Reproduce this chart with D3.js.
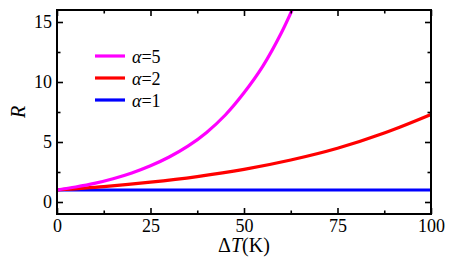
<!DOCTYPE html>
<html>
<head>
<meta charset="utf-8">
<script src="https://cdn.jsdelivr.net/npm/d3@7"></script>
</head>
<body style="margin:0">
<svg id="chart" width="469" height="260" font-family="Liberation Serif"></svg>
<script>

/* Data -------------------------------------------------------------------- */

const xTicks = [0, 25, 50, 75, 100];
const yTicks = [0, 5, 10, 15];

const alpha1T = [0, 100];
const alpha1R = [1, 1];

const alpha2T = [0, 12.5, 25, 37.5, 50, 62.5, 75, 87.5, 100];
const alpha2R = [1, 1.28, 1.65, 2.12, 2.72, 3.5, 4.48, 5.75, 7.3];

const alpha5T = [0, 5, 10, 15, 20, 25, 30, 35, 40, 45, 50, 55, 60, 64];
const alpha5R = [1, 1.25, 1.55, 1.94, 2.42, 3.02, 3.75, 4.65, 5.8, 7.25, 9.1, 11.3, 14.1, 16.8];

const seriesNames = ["5", "2", "1"];
const seriesColors = ["#ff00ff", "#ff0000", "#0000ff"];

/* Draw graphic ------------------------------------------------------------ */

const fontName = "Liberation Serif";

const margin = {top: 10, right: 38, bottom: 46, left: 57};
const plotW = 469 - margin.left - margin.right;
const plotH = 260 - margin.top - margin.bottom;

const x = d3.scaleLinear().domain([0, 100]).range([0, plotW]);
const y = d3.scaleLinear().domain([-1, 16]).range([plotH, 0]);

const svg = d3.select("#chart");

const canvas = svg.append("g")
    .attr("transform", `translate(${margin.left},${margin.top})`);

// Clip for curves
canvas.append("clipPath")
    .attr("id", "plot-clip")
    .append("rect")
    .attr("width", plotW)
    .attr("height", plotH);

// Curves
const zip = (ts, rs) => ts.map((t, i) => [t, rs[i]]);
const series = [
    zip(alpha5T, alpha5R),
    zip(alpha2T, alpha2R),
    zip(alpha1T, alpha1R)
];

const lineGen = d3.line()
    .x(d => x(d[0]))
    .y(d => y(d[1]))
    .curve(d3.curveCatmullRom);

// draw blue first so the others sit on top
[2, 1, 0].forEach(i => {
    canvas.append("path")
        .attr("d", lineGen(series[i]))
        .attr("clip-path", "url(#plot-clip)")
        .attr("fill", "none")
        .attr("stroke", seriesColors[i])
        .attr("stroke-width", 3.2);
});

// Axes: major and minor ticks pointing inward on all four sides
const xMinor = d3.range(0, 101, 12.5).filter(v => !xTicks.includes(v));
const yMinor = d3.range(0, 16, 2.5).filter(v => !yTicks.includes(v));

function styleAxis(g) {
    g.attr("font-family", fontName).attr("font-size", 18);
    g.select(".domain").remove();
    g.selectAll("line").attr("stroke", "#000").attr("stroke-width", 1.6);
    g.selectAll("text")
        .attr("font-family", fontName)
        .attr("fill", "#000");
}

canvas.append("g")
    .attr("transform", `translate(0,${plotH})`)
    .call(d3.axisBottom(x).tickValues(xTicks).tickSize(-6).tickPadding(5))
    .call(styleAxis);
canvas.append("g")
    .attr("transform", `translate(0,${plotH})`)
    .call(d3.axisBottom(x).tickValues(xMinor).tickSize(-3.5).tickFormat(""))
    .call(styleAxis);
canvas.append("g")
    .call(d3.axisTop(x).tickValues(xTicks).tickSize(-6).tickFormat(""))
    .call(styleAxis);
canvas.append("g")
    .call(d3.axisTop(x).tickValues(xMinor).tickSize(-3.5).tickFormat(""))
    .call(styleAxis);

canvas.append("g")
    .call(d3.axisLeft(y).tickValues(yTicks).tickSize(-6).tickPadding(5))
    .call(styleAxis);
canvas.append("g")
    .call(d3.axisLeft(y).tickValues(yMinor).tickSize(-3.5).tickFormat(""))
    .call(styleAxis);
canvas.append("g")
    .attr("transform", `translate(${plotW},0)`)
    .call(d3.axisRight(y).tickValues(yTicks).tickSize(-6).tickFormat(""))
    .call(styleAxis);
canvas.append("g")
    .attr("transform", `translate(${plotW},0)`)
    .call(d3.axisRight(y).tickValues(yMinor).tickSize(-3.5).tickFormat(""))
    .call(styleAxis);

// Frame
canvas.append("rect")
    .attr("width", plotW)
    .attr("height", plotH)
    .attr("fill", "none")
    .attr("stroke", "#000")
    .attr("stroke-width", 2);

// Axis titles
const xTitle = svg.append("text")
    .attr("x", margin.left + plotW / 2)
    .attr("y", 252)
    .attr("text-anchor", "middle")
    .attr("font-family", fontName)
    .attr("font-size", 20);
xTitle.append("tspan").text("Δ");
xTitle.append("tspan").attr("font-style", "italic").text("T");
xTitle.append("tspan").text("(K)");

svg.append("text")
    .attr("transform", `translate(25,${margin.top + plotH / 2}) rotate(-90)`)
    .attr("text-anchor", "middle")
    .attr("font-family", fontName)
    .attr("font-size", 20)
    .attr("font-style", "italic")
    .text("R");

// Legend
const legend = svg.append("g")
    .attr("transform", "translate(95,56)");

seriesNames.forEach((name, i) => {
    const row = legend.append("g")
        .attr("transform", `translate(0,${i * 22})`);
    row.append("line")
        .attr("x1", 0).attr("x2", 30)
        .attr("stroke", seriesColors[i])
        .attr("stroke-width", 3.2);
    const t = row.append("text")
        .attr("x", 37)
        .attr("y", 7)
        .attr("font-family", fontName)
        .attr("font-size", 18);
    t.append("tspan").attr("font-style", "italic").text("α");
    t.append("tspan").text("=" + name);
});

</script>
</body>
</html>
